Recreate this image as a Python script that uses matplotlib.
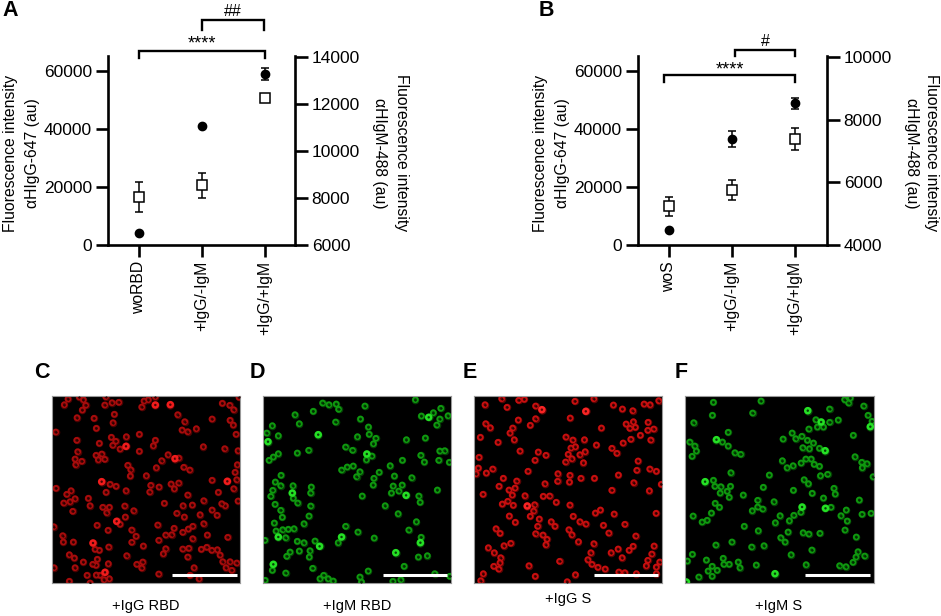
import numpy as np
import matplotlib
matplotlib.use("Agg")
import matplotlib.pyplot as plt

plt.rcParams['font.family'] = ['Liberation Sans', 'DejaVu Sans']

W, H = 941, 616

# panel A
a_cats = ['woRBD', '+IgG/-IgM', '+IgG/+IgM']
a_igg = [4250, 41150, 59000]
a_igg_err = [0, 0, 2000]
a_igm = [8040, 8540, 12250]
a_igm_err = [645, 540, 0]

# panel B
b_cats = ['woS', '+IgG/-IgM', '+IgG/+IgM']
b_igg = [5070, 36450, 48850]
b_igg_err = [0, 2700, 2000]
b_igm = [5230, 5750, 7390]
b_igm_err = [290, 325, 345]

left_ticks = [0, 20000, 40000, 60000]
a_right_ticks = [6000, 8000, 10000, 12000, 14000]
b_right_ticks = [4000, 6000, 8000, 10000]

c_cells = [(144,116),(133,133),(178,110),(190,118),(197,135),(187,149),(257,109),(254,134),(276,127),(296,126),(283,162),(279,187),(222,174),(171,172),(229,204),(107,215),(372,122),(385,118),(365,140),(406,109),(473,163),(494,184),(486,209),(503,214),(529,205),(576,176),(607,129),(629,135),(641,148),(630,180),(640,194),(648,222),(657,111),
    (170,240),(238,249),(274,231),(287,243),(278,255),(319,229),(358,222),(300,266),(358,273),(406,240),(400,256),(173,274),(165,296),(185,303),(167,313),(228,285),(245,281),(235,298),(254,297),(444,283),(476,293),(425,301),(409,322),(491,321),(509,329),(550,259),(614,265),(654,271),(652,313),(645,336),(323,315),(332,328),(331,347),(379,346),(576,360),(650,358),
    (108,384),(270,372),(288,378),(318,391),(392,375),(389,395),(417,380),(453,371),(476,368),(463,385),(258,396),(153,391),(140,402),(165,415),(150,424),(131,428),(205,414),(210,436),(503,404),(595,396),(641,385),(551,421),(654,422),(605,430),(616,436),(433,429),(489,436),(517,434),(314,437),(341,451),(248,441),(268,441),(260,457),(158,453),(470,459),(493,470),(540,463),(576,449),(591,465),
    (300,492),(316,470),(101,499),(231,495),(413,494),(462,504),(518,498),(505,506),(488,516),(551,490),(264,510),(335,509),(128,526),(130,545),(160,545),(225,567),(348,528),(335,546),(266,560),(370,557),(416,540),(437,524),(455,523),(518,535),(562,524),(623,531),
    (148,583),(163,593),(238,570),(320,586),(430,580),(437,565),(488,566),(506,564),(503,590),(544,567),(560,561),(575,570),(592,568),(600,584),(232,597),(190,605),(165,622),(218,612),(228,615),(102,622),(201,645),(229,644),(240,645),(265,610),(268,655),(252,658),(350,612),(368,605),(365,623),(416,641),(522,622),(510,645),(537,655),(608,604),(630,604),(650,608),(618,622),(635,630),(148,663),(210,668)]
c_bright = [(406,134),(451,133),(318,258),(465,295),(622,363),(245,364),(290,483),(219,548),(255,636)]

d_cells = [(908,128),(927,133),(949,131),(956,147),(880,153),(825,163),(838,190),(947,185),(1035,137),(1022,176),(1046,200),(1048,222),(1187,118),(1263,144),(1241,157),(1205,167),(1260,176),(1285,166),(1251,194),(757,196),(740,218),(775,226),(1013,229),(1068,234),(1061,250),(1160,238),(1217,233),(977,260),(998,270),(866,270),(832,278),(775,280),(760,290),(747,300),(1056,287),(1040,298),(1148,300),(1203,285),(1214,305),(1257,300),(1260,272),(1275,271),(1289,306),(1111,316),(1000,317),(982,320),(965,329),(1020,334),(1010,349),(1078,336),(1124,347),(1062,354),(1060,374),(1176,352),(783,345),(766,365),(782,376),(758,390),(752,408),(765,432),(819,376),(874,380),(872,398),(820,414),(833,428),(872,437),(1120,377),(1147,374),(1137,392),(1115,398),(1253,389),(1197,407),(1201,426),(1027,407),(1096,436),(1135,460),(782,450),(787,471),(867,467),(852,490),(763,488),(768,512),(788,508),(805,507),(822,505),(797,532),(977,498),(1014,515),(1063,533),(1190,484),(1167,509),(1204,531),(734,540),(832,543),(852,547),(885,542),(955,547),(810,575),(800,588),(838,572),(870,571),(868,590),(1196,590),(1223,586),(1153,618),(757,630),(797,638),(878,624),(1045,632),(1020,650),(911,645),(900,655),(925,655),(940,662),(1119,663),(1143,658),(1245,640),(1290,648),(735,660),(1025,665)]
d_bright = [(1227,171),(744,244),(895,223),(1041,281),(817,398),(1159,405),(775,530),(965,530),(1202,547),(899,558),(1128,577),(760,612)]

e_cells = [(125,115),(75,133),(141,141),(176,120),(193,117),(227,137),(345,123),(402,115),(461,134),(488,146),(519,151),(553,131),(571,133),(597,121),(175,179),(227,175),(77,190),(91,202),(158,203),(150,218),(211,195),(331,173),(425,203),(499,191),(521,184),(510,204),(527,201),(565,186),(564,210),(582,206),(61,231),(114,246),(163,238),(318,230),(339,239),(374,238),(513,237),(490,248),(542,225),(573,239),(180,272),(235,275),(258,285),(410,254),(333,263),(347,259),(325,282),(336,295),(360,283),(376,274),(317,305),(371,307),(456,264),(471,279),(57,291),(225,300),(535,302),(531,330),(570,326),(590,333),(55,323),(48,340),(79,338),(98,326),(204,333),(294,340),(330,345),(476,344),(130,354),(170,362),(117,378),(255,370),(293,363),(329,365),(363,354),(404,354),(522,367),(605,372),(165,383),(147,389),(157,404),(69,402),(456,390),(569,391),(195,406),(250,408),(269,407),(143,423),(127,431),(160,435),(289,426),(330,434),(224,433),(221,452),(211,468),(148,467),(166,486),(238,476),(340,468),(407,458),(422,449),(463,461),(589,459),(360,484),(378,491),(274,484),(285,498),(233,498),(431,495),(495,492),(108,505),(120,519),(327,508),(336,523),(227,520),(249,524),(447,518),(528,527),(261,537),(258,553),(356,544),(402,550),(152,549),(132,556),(85,562),(103,577),(122,592),(120,607),(101,618),(116,626),(393,577),(454,577),(475,566),(508,570),(520,558),(583,557),(576,581),(487,592),(384,598),(396,612),(564,600),(600,605),(207,616),(299,603),(414,621),(436,626),(560,616),(590,620),(70,640),(226,648),(347,643),(477,635),(495,637),(62,661),(322,664),(530,640),(590,640)]
e_bright = [(246,148),(378,153),(202,437)]

f_cells = [(761,126),(903,122),(878,158),(758,165),(1108,146),(1153,118),(1170,113),(1165,128),(1210,137),(1223,165),(702,187),(1067,178),(1108,186),(1134,179),(1072,200),(1090,200),(1235,183),(805,216),(1046,206),(996,218),(1007,235),(1025,228),(1042,240),(1060,248),(1179,225),(969,236),(788,245),(805,257),(690,245),(705,257),(710,272),(697,288),(825,277),(842,282),(1028,262),(1048,265),(1078,264),(1184,289),(967,301),(1023,308),(1037,296),(1053,296),(1062,312),(1078,318),(1204,306),(1220,310),(1206,322),(999,316),(981,322),(813,337),(928,344),(1081,346),(1102,342),(1238,349),(761,360),(765,378),(783,379),(812,378),(781,398),(802,393),(808,411),(910,381),(1032,358),(1045,370),(1000,390),(1056,399),(1121,384),(1125,401),(850,404),(893,420),(766,429),(779,441),(942,424),(877,451),(893,440),(908,446),(1090,413),(1197,419),(1112,441),(1022,456),(700,467),(755,458),(960,466),(1001,465),(988,481),(1158,449),(1142,466),(1205,462),(1232,459),(946,487),(742,480),(727,485),(853,498),(1161,482),(895,511),(1154,509),(1029,517),(1046,521),(1079,519),(984,515),(962,532),(975,545),(1188,530),(768,554),(816,545),(875,560),(912,556),(1055,569),(698,582),(993,583),(1193,574),(1187,590),(1178,606),(1213,587),(740,599),(790,594),(792,612),(808,612),(835,605),(840,622),(683,602),(757,618),(745,632),(772,630),(717,650),(757,648),(889,614),(1038,613),(1138,616),(1157,619)]
f_bright = [(1043,151),(1083,185),(1230,199),(770,238),(1095,271),(736,364),(1026,440),(1096,444),(945,640),(680,665)]


def px_axes(fig, x0, y0, x1, y1):
    # y counted from top of the image, like the reference
    return fig.add_axes([x0 / W, 1 - y1 / H, (x1 - x0) / W, (y1 - y0) / H])


def label(fig, x, y, s, **kw):
    fig.text(x / W, 1 - y / H, s, ha='center', va='center', **kw)


def dot_panel(fig, x0, x1, cats, igg, igg_err, igm, igm_err, r_ticks, r_lim):
    ax = px_axes(fig, x0, 56, x1, 245)
    pos = np.arange(3)
    ax.set_xlim(-0.492, (x1 - x0) / 63 - 0.492)
    ax.set_ylim(0, 65170)
    ax.errorbar(pos, igg, yerr=igg_err, fmt='o', color='black', ms=6, capsize=3, elinewidth=1.1, capthick=1.1, clip_on=False, zorder=3)
    ax.set_xticks(pos)
    ax.set_xticklabels(cats, rotation=90, fontsize=11.3)
    ax.set_yticks(left_ticks)
    ax.tick_params(axis='y', labelsize=12.5, length=8.6, width=1.9, pad=3)
    ax.tick_params(axis='x', length=8.6, width=1.9, pad=3)
    ax.spines['top'].set_visible(False)
    ax.spines['right'].set_visible(False)

    ax2 = ax.twinx()
    ax2.set_ylim(*r_lim)
    ax2.errorbar(pos, igm, yerr=igm_err, fmt='s', color='black', mfc='white', mew=1.1, ms=6.5, capsize=3, elinewidth=1.1, capthick=1.1, clip_on=False, zorder=3)
    ax2.set_yticks(r_ticks)
    ax2.tick_params(axis='y', labelsize=12.5, length=9, width=1.9, pad=3)
    ax2.spines['top'].set_visible(False)
    ax2.spines['left'].set_visible(False)
    ax2.spines['bottom'].set_visible(False)
    for a in (ax, ax2):
        for sp in a.spines.values():
            sp.set_linewidth(1.9)
    return ax


def bracket(ax, x0, x1, y_top, y_bot):
    ax.plot([x0, x0, x1, x1], [y_bot, y_top, y_top, y_bot], color='black', lw=1.7, clip_on=False, solid_joinstyle='miter')


def micrograph(fig, x0, y0, x1, y1, box, cells, bright, dim_col, ring_col, bright_col, hole_col):
    ax = px_axes(fig, x0, y0, x1, y1)
    ax.set_facecolor('black')
    ax.set_xlim(box[0], box[1])
    ax.set_ylim(box[3], box[2])
    ax.set_xticks([])
    ax.set_yticks([])
    for sp in ax.spines.values():
        sp.set_color('#999999')
        sp.set_linewidth(0.8)
    cx, cy = zip(*cells)
    # soft halo, then the ring with its dark middle
    ax.scatter(cx, cy, s=30, color=dim_col, linewidths=0)
    ax.scatter(cx, cy, s=12, facecolors='none', edgecolors=ring_col, linewidths=1.35, zorder=2)
    ax.scatter(cx, cy, s=2.5, color=hole_col, linewidths=0, zorder=3)
    bx, by = zip(*bright)
    ax.scatter(bx, by, s=36, color=dim_col, linewidths=0)
    ax.scatter(bx, by, s=13, facecolors='none', edgecolors=bright_col, linewidths=1.8, zorder=2)
    # scale bar
    ax.plot([box[0] + 360, box[0] + 554], [box[2] + 538, box[2] + 538], color='white', lw=2.2, solid_capstyle='butt', zorder=4)
    return ax


fig = plt.figure(figsize=(W / 100, H / 100), dpi=100)

ax_a = dot_panel(fig, 108, 295, a_cats, a_igg, a_igg_err, a_igm, a_igm_err, a_right_ticks, (6000, 14040))
bracket(ax_a, 0, 2, 67000, 64500)
bracket(ax_a, 1, 1.98, 77600, 74100)

ax_b = dot_panel(fig, 638, 827, b_cats, b_igg, b_igg_err, b_igm, b_igm_err, b_right_ticks, (4000, 10030))
bracket(ax_b, -0.08, 2, 58600, 56300)
bracket(ax_b, 1.05, 2, 67200, 65200)

label(fig, 202, 44, '****', fontsize=13)
label(fig, 233, 11, '##', fontsize=11.5)
label(fig, 730, 70, '****', fontsize=13)
label(fig, 765, 42, '#', fontsize=11.5)

for x1, x2, r1, r2 in [(11, 33, 402, 380), (541, 562, 932, 911)]:
    label(fig, x1, 153, 'Fluorescence intensity', rotation=90, fontsize=11.3)
    label(fig, x2, 153, 'αHIgG-647 (au)', rotation=90, fontsize=11.3)
    label(fig, r1, 153, 'Fluorescence intensity', rotation=270, fontsize=11.3)
    label(fig, r2, 153, 'αHIgM-488 (au)', rotation=270, fontsize=11.3)

red = ('#4a0303', '#a80c0c', '#f01c1c', '#2a0000')
green = ('#063f06', '#0f9a0f', '#25e025', '#002a00')
micrograph(fig, 52, 396, 240, 583, (96, 660, 107, 668), c_cells, c_bright, *red)
micrograph(fig, 263, 396, 451, 583, (729, 1294, 107, 668), d_cells, d_bright, *green)
micrograph(fig, 474, 396, 662, 583, (42, 607, 107, 668), e_cells, e_bright, '#5a0404', '#c80f0f', '#f82424', '#2a0000')
micrograph(fig, 685, 396, 874, 583, (676, 1241, 107, 668), f_cells, f_bright, *green)

for x, y, s in [(146, 606, '+IgG RBD'), (357, 606, '+IgM RBD'), (568, 599, '+IgG S'), (779, 606, '+IgM S')]:
    label(fig, x, y, s, fontsize=10.5)

for x, y, s in [(10, 11, 'A'), (546, 11, 'B'), (42, 372, 'C'), (257, 372, 'D'), (470, 372, 'E'), (681, 372, 'F')]:
    label(fig, x, y, s, fontsize=15.5, fontweight='bold')

fig.savefig('out.png', dpi=100)
